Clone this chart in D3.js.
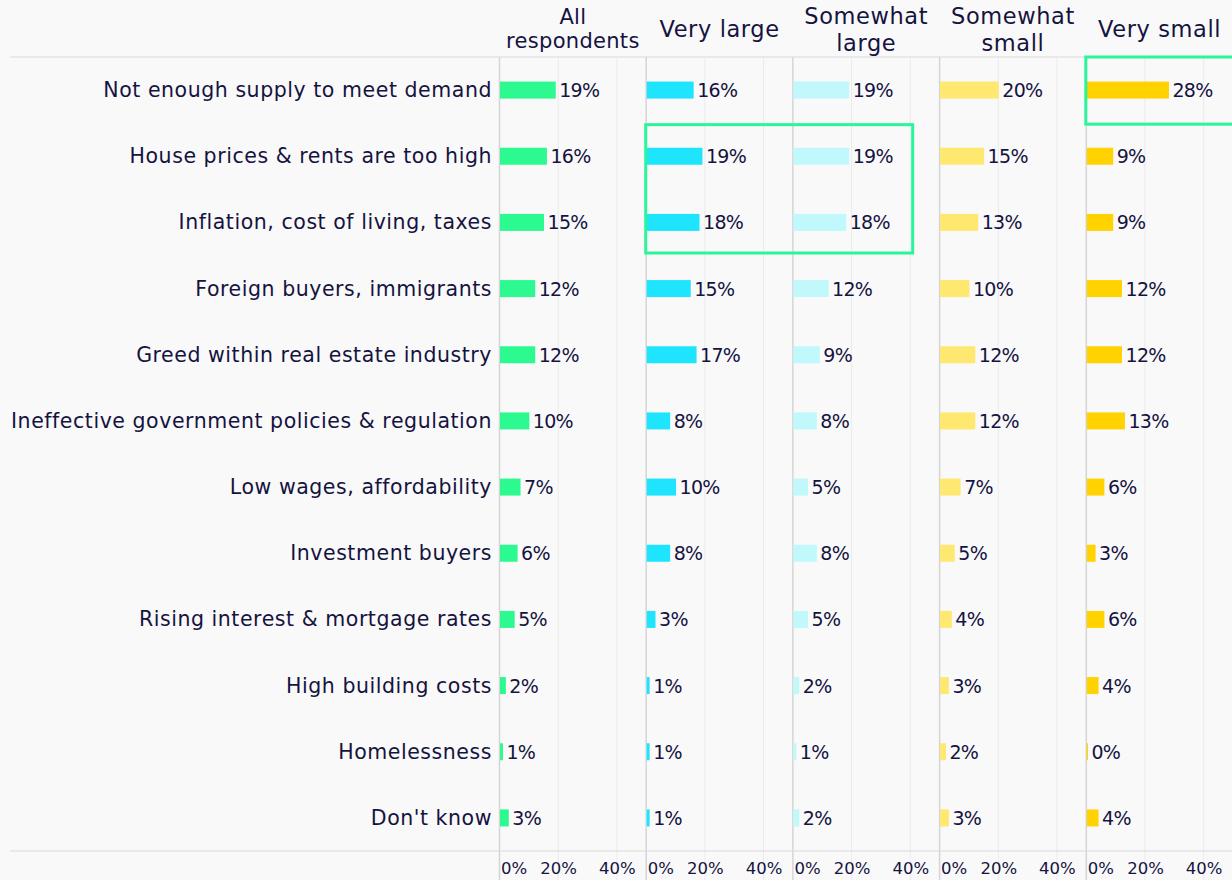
<!DOCTYPE html>
<html>
<head>
<meta charset="utf-8">
<script src="https://cdn.jsdelivr.net/npm/d3@7"></script>
<style>
  html, body { margin: 0; padding: 0; background: #f9f9f9; }
  svg { display: block; }
  text { font-family: "DejaVu Sans", sans-serif; fill: #15133f; }
</style>
</head>
<body>
<svg id="chart" width="1232" height="880"></svg>
<script>
const categories = [
  "Not enough supply to meet demand",
  "House prices & rents are too high",
  "Inflation, cost of living, taxes",
  "Foreign buyers, immigrants",
  "Greed within real estate industry",
  "Ineffective government policies & regulation",
  "Low wages, affordability",
  "Investment buyers",
  "Rising interest & mortgage rates",
  "High building costs",
  "Homelessness",
  "Don't know"
];
const groups = ["All respondents", "Very large", "Somewhat large", "Somewhat small", "Very small"];
const groupLines = [["All", "respondents"], ["Very large"], ["Somewhat", "large"], ["Somewhat", "small"], ["Very small"]];
const allRespondents = [19, 16, 15, 12, 12, 10, 7, 6, 5, 2, 1, 3];
const veryLarge      = [16, 19, 18, 15, 17, 8, 10, 8, 3, 1, 1, 1];
const somewhatLarge  = [19, 19, 18, 12, 9, 8, 5, 8, 5, 2, 1, 2];
const somewhatSmall  = [20, 15, 13, 10, 12, 12, 7, 5, 4, 3, 2, 3];
const verySmall      = [28, 9, 9, 12, 12, 13, 6, 3, 6, 4, 0.4, 4];
const seriesValues = [allRespondents, veryLarge, somewhatLarge, somewhatSmall, verySmall];
const tickValues = [0, 20, 40];
const colors = ["#2cf990", "#1fe4fd", "#c0f8fc", "#ffe870", "#ffd200"];

const svg = d3.select("#chart");
const W = 1232, H = 880;
const plotTop = 57, plotBottom = 851;
const panelStart = 499.5, panelW = 146.7;

svg.append("rect").attr("width", W).attr("height", H).attr("fill", "#f9f9f9");

const y = d3.scaleBand().domain(categories).range([plotTop, plotBottom]).paddingInner(0).paddingOuter(0);
const barH = 17;

const xScales = groups.map((g, i) =>
  d3.scaleLinear().domain([0, 50]).range([panelStart + i * panelW, panelStart + (i + 1) * panelW]));

// gridlines
groups.forEach((g, i) => {
  const x = xScales[i];
  svg.append("g").selectAll("line").data([20, 40]).join("line")
    .attr("x1", d => x(d)).attr("x2", d => x(d))
    .attr("y1", plotTop).attr("y2", H)
    .attr("stroke", "#ebebeb").attr("stroke-width", 1);
  svg.append("line")
    .attr("x1", x(0)).attr("x2", x(0)).attr("y1", plotTop).attr("y2", H)
    .attr("stroke", "#d5d5d5").attr("stroke-width", 1.5);
});

// horizontal lines
[plotTop, plotBottom].forEach(yy => {
  svg.append("line").attr("x1", 10).attr("x2", W).attr("y1", yy).attr("y2", yy)
    .attr("stroke", "#d9d9d9").attr("stroke-width", 1.2);
});

// category labels
svg.append("g").selectAll("text").data(categories).join("text")
  .attr("x", 492).attr("y", d => y(d) + y.bandwidth() / 2)
  .attr("text-anchor", "end").attr("dominant-baseline", "central")
  .attr("font-size", 20.5).attr("letter-spacing", 0.55)
  .text(d => d);

// bars and value labels
groups.forEach((g, i) => {
  const x = xScales[i];
  const vals = seriesValues[i];
  const gg = svg.append("g");
  gg.selectAll("rect").data(categories).join("rect")
    .attr("x", x(0) + 0.5)
    .attr("y", (d) => y(d) + y.bandwidth() / 2 - barH / 2)
    .attr("width", (d, j) => Math.max(0, x(vals[j]) - x(0)))
    .attr("height", barH)
    .attr("fill", colors[i]);
  gg.selectAll("text").data(categories).join("text")
    .attr("x", (d, j) => x(vals[j]) + 4)
    .attr("y", d => y(d) + y.bandwidth() / 2)
    .attr("dominant-baseline", "central")
    .attr("font-size", 19).attr("letter-spacing", -0.7)
    .text((d, j) => Math.round(vals[j]) + "%");

  // axis
  const axis = d3.axisBottom(x).tickValues(tickValues).tickSize(0).tickFormat(d => d + "%");
  const ag = svg.append("g").attr("transform", `translate(0, ${plotBottom + 8})`).call(axis);
  ag.select(".domain").remove();
  ag.selectAll("text").attr("font-size", 16.5).attr("fill", "#15133f")
    .attr("font-family", "DejaVu Sans, sans-serif")
    .attr("text-anchor", d => d === 0 ? "start" : "middle")
    .attr("dx", d => d === 0 ? 1 : 0);

  // header
  const cx = x(25);
  const lines = groupLines[i];
  const ht = svg.append("text").attr("text-anchor", "middle")
    .attr("font-size", i === 0 ? 21 : 22.5).attr("letter-spacing", i === 0 ? 0.3 : 0.6);
  if (lines.length === 1) {
    ht.append("tspan").attr("x", cx).attr("y", 37).text(lines[0]);
  } else {
    ht.append("tspan").attr("x", cx).attr("y", 24).text(lines[0]);
    ht.append("tspan").attr("x", cx).attr("y", i === 0 ? 48 : 51).text(lines[1]);
  }
});

// highlight boxes
const hl = "#2af59a";
const xb1 = xScales[1], xb2 = xScales[2];
svg.append("rect")
  .attr("x", xb1(0) - 0.5)
  .attr("y", y(categories[1]) + 1.5)
  .attr("width", xb2(41) - xb1(0))
  .attr("height", y.bandwidth() * 2 - 4)
  .attr("fill", "none").attr("stroke", hl).attr("stroke-width", 3);
const xb4 = xScales[4];
svg.append("rect")
  .attr("x", xb4(0) - 0.5)
  .attr("y", plotTop)
  .attr("width", W - xb4(0) + 5)
  .attr("height", y.bandwidth() + 1)
  .attr("fill", "none").attr("stroke", hl).attr("stroke-width", 3);
</script>
</body>
</html>
